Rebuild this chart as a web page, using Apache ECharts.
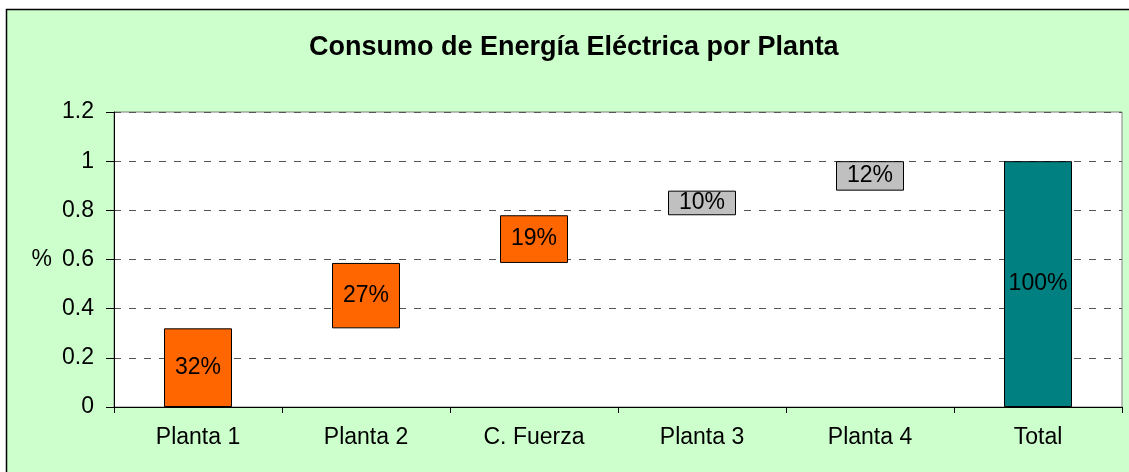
<!DOCTYPE html>
<html>
<head>
<meta charset="utf-8">
<title>Consumo de Energía Eléctrica por Planta</title>
<script src="https://cdn.jsdelivr.net/npm/echarts@6/dist/echarts.min.js"></script>
<style>
  html, body { margin: 0; padding: 0; background: #fff; overflow: hidden; }
  #chart { width: 1129px; height: 472px; }
</style>
</head>
<body>
<div id="chart"></div>
<script>
// categorias y participaciones (fraccion del total)
var categories = ["Planta 1", "Planta 2", "C. Fuerza", "Planta 3", "Planta 4", "Total"];
var shares = [0.32, 0.266, 0.194, 0.1, 0.12];
var total = 1.0;
var yTicks = { min: 0, max: 1.2, interval: 0.2 };

var barColors = ["#FF6600", "#FF6600", "#FF6600", "#C0C0C0", "#C0C0C0", "#008080"];
var font = "'Liberation Sans', Arial, sans-serif";

// base invisible (acumulado) + tramo visible
var base = [];
var visible = [];
var acc = 0;
shares.forEach(function (v) {
  base.push(acc);
  visible.push(v);
  acc += v;
});
base.push(0);
visible.push(total);

var chart = echarts.init(document.getElementById("chart"));
var option = {
  backgroundColor: "#fff",
  textStyle: { fontFamily: font },
  graphic: [
    {
      type: "rect",
      shape: { x: 6.5, y: 9.5, width: 1200, height: 500 },
      style: { fill: "#CCFFCC", stroke: "#000", lineWidth: 1.5 },
      z: -10,
      silent: true
    }
  ],
  title: {
    text: "Consumo de Energía Eléctrica por Planta",
    left: 304,
    top: 29,
    textStyle: { fontFamily: font, fontSize: 27, fontWeight: "bold", color: "#000" }
  },
  grid: {
    left: 114,
    right: 7,
    top: 112,
    bottom: 65,
    show: true,
    backgroundColor: "#fff",
    borderColor: "#808080",
    borderWidth: 1
  },
  xAxis: {
    type: "category",
    data: categories,
    axisLine: { lineStyle: { color: "#000", width: 1 } },
    axisTick: { show: true, length: 6, lineStyle: { color: "#000" } },
    axisLabel: { color: "#000", fontSize: 23, fontFamily: font, margin: 19 }
  },
  yAxis: {
    type: "value",
    min: yTicks.min,
    max: yTicks.max,
    interval: yTicks.interval,
    name: "%",
    nameLocation: "middle",
    nameRotate: 0,
    nameGap: 62,
    nameTextStyle: { color: "#000", fontSize: 23, fontFamily: font, align: "right" },
    axisLine: { show: true, lineStyle: { color: "#000", width: 1 } },
    axisTick: { show: true, length: 8, lineStyle: { color: "#000" } },
    axisLabel: { color: "#000", fontSize: 23, fontFamily: font, margin: 20 },
    splitLine: { show: true, lineStyle: { color: "#555", type: [7, 8], width: 1 } }
  },
  series: [
    {
      type: "bar",
      stack: "w",
      data: base,
      barWidth: 68,
      itemStyle: { color: "transparent", borderColor: "transparent" },
      silent: true
    },
    {
      type: "bar",
      stack: "w",
      barWidth: 68,
      data: visible.map(function (v, i) {
        return {
          value: v,
          itemStyle: { color: barColors[i], borderColor: "#000", borderWidth: 1 }
        };
      }),
      label: {
        show: true,
        position: "inside",
        color: "#000",
        fontSize: 23,
        fontFamily: font,
        formatter: function (p) { return Math.round(p.value * 100) + "%"; }
      }
    }
  ]
};
chart.setOption(option);
</script>
</body>
</html>
